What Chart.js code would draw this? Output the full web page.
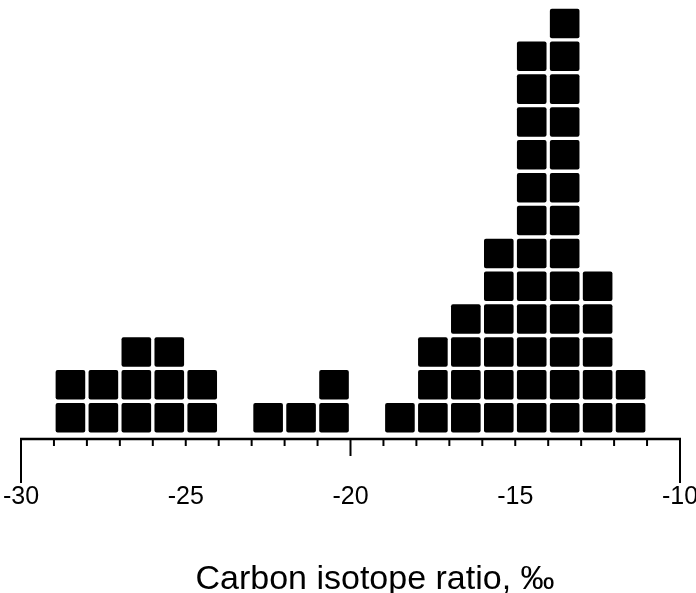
<!DOCTYPE html>
<html>
<head>
  <title>Carbon isotope ratio</title>
  <script src="https://cdn.jsdelivr.net/npm/chart.js"></script>
  <style>
    body { margin: 0; background: #fff; }
    #wrap { width: 696px; height: 593px; }
  </style>
</head>
<body>
  <div id="wrap"><canvas id="chartCanvas"></canvas></div>

<script>
  // left edge of each 1-per-mil bin and how many samples fall in it
  const binStarts = [-29, -28, -27, -26, -25, -23, -22, -21, -19, -18, -17, -16, -15, -14, -13, -12];
  const counts    = [  2,   2,   3,   3,   2,   1,   1,   2,   1,   3,   4,   6,  12,  13,   5,   2];

  const tickLabels = [-30, -25, -20, -15, -10];
  const longTicks = [-30, -10];
  const midTicks = [-20];
  const axisTitle = "Carbon isotope ratio, ‰";

  // one stacked dataset per row of squares
  const maxCount = Math.max(...counts);
  const datasets = [];
  for (let level = 1; level <= maxCount; level++) {
    const pts = [];
    binStarts.forEach((b, i) => {
      if (counts[i] >= level) pts.push({ x: b + 0.5, y: 1 });
    });
    datasets.push({
      data: pts,
      stack: "squares",
      backgroundColor: "#000",
      borderColor: "#fff",
      borderWidth: 2,
      borderSkipped: false,
      borderRadius: { topLeft: 4, topRight: 4, bottomLeft: 4, bottomRight: 4 },
      barPercentage: 1,
      categoryPercentage: 1
    });
  }

  // axis line with three tick lengths, plus the axis title (sits right of centre)
  const axisPlugin = {
    id: "axisTicks",
    afterDraw(chart) {
      const ctx = chart.ctx;
      const x = chart.scales.x;
      const y0 = chart.chartArea.bottom;
      ctx.save();
      ctx.strokeStyle = "#000";
      ctx.lineCap = "butt";
      ctx.lineWidth = 2.5;
      ctx.beginPath();
      ctx.moveTo(x.getPixelForValue(-30) - 1, y0);
      ctx.lineTo(x.getPixelForValue(-10) + 1, y0);
      ctx.stroke();
      ctx.lineWidth = 2;
      x.ticks.forEach(t => {
        const px = x.getPixelForValue(t.value);
        let len = 7;
        if (longTicks.includes(t.value)) len = 44;
        else if (midTicks.includes(t.value)) len = 17;
        ctx.beginPath();
        ctx.moveTo(px, y0);
        ctx.lineTo(px, y0 + len);
        ctx.stroke();
      });

      ctx.fillStyle = "#000";
      ctx.font = "34px 'Liberation Sans', Arial, sans-serif";
      ctx.textAlign = "center";
      ctx.textBaseline = "alphabetic";
      ctx.fillText(axisTitle, 375, 589);
      ctx.restore();
    }
  };

  const ctx = document.getElementById("chartCanvas").getContext("2d");
  new Chart(ctx, {
    type: "bar",
    data: { datasets: datasets },
    options: {
      responsive: true,
      maintainAspectRatio: false,
      animation: false,
      layout: { padding: { top: 7, left: 21, right: 16, bottom: 81 } },
      plugins: {
        legend: { display: false },
        tooltip: { enabled: false }
      },
      scales: {
        x: {
          type: "linear",
          min: -30,
          max: -10,
          offset: false,
          stacked: true,
          grid: { display: false, drawTicks: true, tickLength: 43 },
          border: { display: false },
          afterFit: s => { s.paddingLeft = 0; s.paddingRight = 0; },
          ticks: {
            stepSize: 1,
            autoSkip: false,
            maxRotation: 0,
            padding: 0,
            color: "#000",
            font: { family: "'Liberation Sans', Arial, sans-serif", size: 25 },
            callback: v => tickLabels.includes(v) ? String(v) : ""
          }
        },
        y: {
          display: false,
          stacked: true,
          min: -0.15,
          max: 13
        }
      }
    },
    plugins: [axisPlugin]
  });
</script>
</body>
</html>
